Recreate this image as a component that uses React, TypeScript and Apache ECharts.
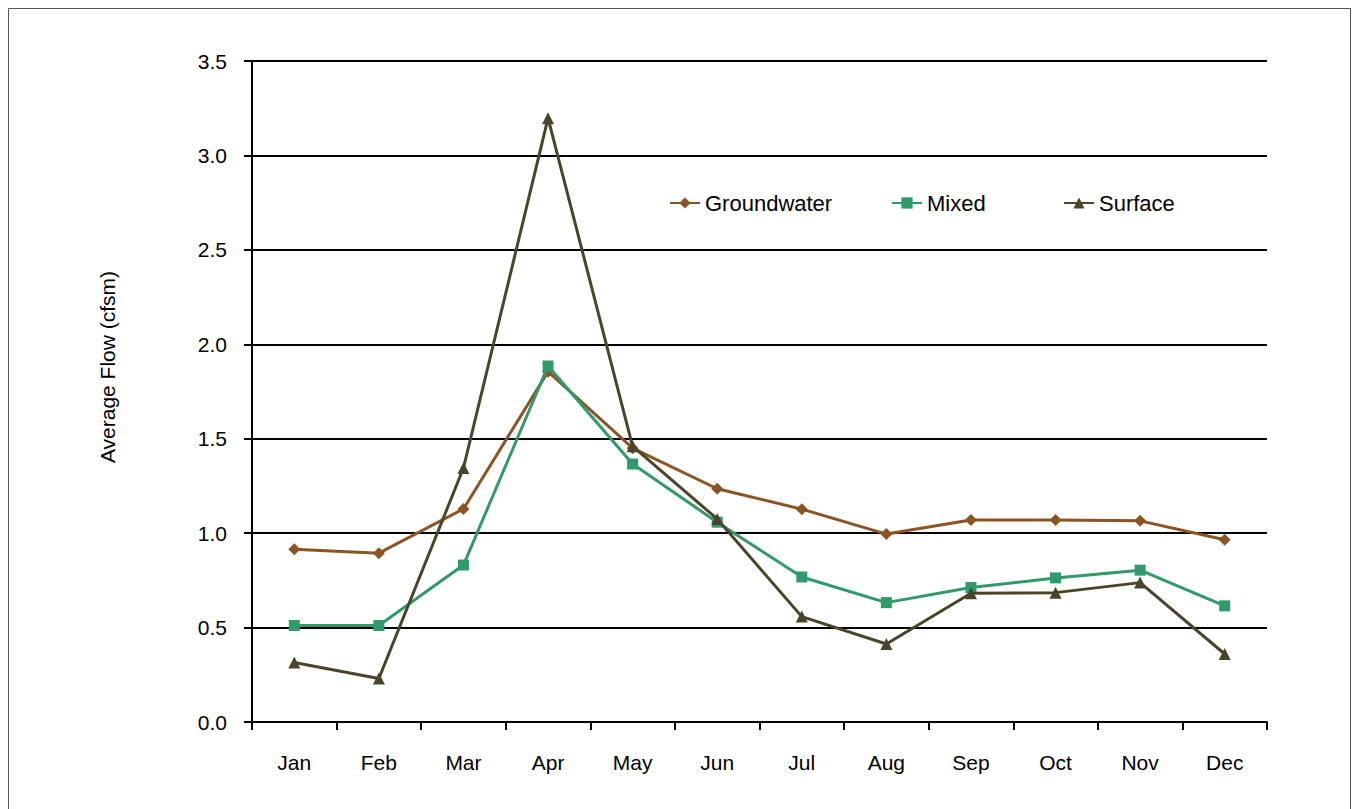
import React, { useEffect, useRef } from "react";
import * as echarts from "echarts";

const months = ["Jan", "Feb", "Mar", "Apr", "May", "Jun", "Jul", "Aug", "Sep", "Oct", "Nov", "Dec"];
const groundwater = [0.915, 0.894, 1.128, 1.855, 1.45, 1.235, 1.127, 0.995, 1.07, 1.07, 1.065, 0.965];
const mixed = [0.511, 0.511, 0.831, 1.885, 1.366, 1.058, 0.768, 0.632, 0.712, 0.763, 0.804, 0.615];
const surface = [0.315, 0.23, 1.345, 3.197, 1.46, 1.075, 0.558, 0.413, 0.682, 0.685, 0.738, 0.36];
const yTicks = { min: 0, max: 3.5, interval: 0.5 };
const yTitle = "Average Flow (cfsm)";

const FONT = "'Liberation Sans', Arial, sans-serif";
const C_GW = "#8B5422";
const C_MX = "#2F9A6A";
const C_SF = "#4B4429";

export default function App() {
  const ref = useRef<HTMLDivElement>(null);
  useEffect(() => {
    document.body.style.margin = "0";
    const chart = echarts.init(ref.current!, null, { renderer: "svg" });
    const legendBase = {
      orient: "horizontal",
      top: 187,
      itemWidth: 30,
      itemHeight: 14,
      textStyle: { fontFamily: FONT, fontSize: 22, color: "#000" },
    };
    chart.setOption({
      animation: false,
      backgroundColor: "#fff",
      grid: { left: 252, right: 86, top: 61, bottom: 87, containLabel: false },
      legend: [
        { ...legendBase, left: 664, data: ["Groundwater"] },
        { ...legendBase, left: 886, data: ["Mixed"] },
        { ...legendBase, left: 1058, data: ["Surface"] },
      ],
      xAxis: {
        type: "category",
        data: months,
        boundaryGap: true,
        axisLine: { lineStyle: { color: "#000", width: 2 } },
        axisTick: { show: true, length: 8, lineStyle: { color: "#000", width: 2 } },
        axisLabel: { margin: 30, fontFamily: FONT, fontSize: 21, color: "#000" },
        splitLine: { show: false },
      },
      yAxis: {
        type: "value",
        min: yTicks.min,
        max: yTicks.max,
        interval: yTicks.interval,
        axisLine: { show: true, lineStyle: { color: "#000", width: 2 } },
        axisTick: { show: true, length: 8, lineStyle: { color: "#000", width: 2 } },
        axisLabel: {
          margin: 25,
          fontFamily: FONT,
          fontSize: 21,
          color: "#000",
          formatter: (v: number) => v.toFixed(1),
        },
        splitLine: { show: true, lineStyle: { color: "#000", width: 2 } },
      },
      graphic: [
        {
          type: "text",
          x: 107,
          y: 367,
          rotation: Math.PI / 2,
          style: {
            text: yTitle,
            fontFamily: FONT,
            fontSize: 21,
            fill: "#000",
            align: "center",
            verticalAlign: "middle",
          },
        },
        {
          type: "polyline",
          shape: { points: [[8.5, 830], [8.5, 8.5], [1350.5, 8.5], [1350.5, 830]] },
          style: { stroke: "#555", lineWidth: 1, fill: null },
          silent: true,
        },
      ],
      series: [
        {
          name: "Groundwater",
          type: "line",
          data: groundwater,
          symbol: "diamond",
          symbolSize: 12,
          lineStyle: { color: C_GW, width: 3 },
          itemStyle: { color: C_GW },
          z: 3,
        },
        {
          name: "Mixed",
          type: "line",
          data: mixed,
          symbol: "rect",
          symbolSize: 11,
          lineStyle: { color: C_MX, width: 3 },
          itemStyle: { color: C_MX },
          z: 4,
        },
        {
          name: "Surface",
          type: "line",
          data: surface,
          symbol: "triangle",
          symbolSize: 12,
          lineStyle: { color: C_SF, width: 3 },
          itemStyle: { color: C_SF },
          z: 5,
        },
      ],
    });
    return () => chart.dispose();
  }, []);
  return <div ref={ref} style={{ width: 1353, height: 809 }} />;
}
